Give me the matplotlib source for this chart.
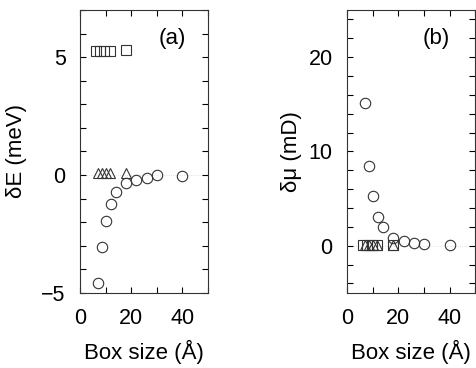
import matplotlib
matplotlib.use("Agg")
import matplotlib.pyplot as plt
from matplotlib.ticker import MultipleLocator

plt.rcParams['font.family'] = ['Liberation Sans', 'DejaVu Sans']

# dados
box_circ = [7, 8.5, 10, 12, 14, 18, 22, 26, 30, 40]
dE_circ = [-4.6, -3.05, -1.95, -1.25, -0.7, -0.33, -0.22, -0.13, 0.0, -0.04]
dmu_circ = [15.1, 8.5, 5.3, 3.1, 1.95, 0.85, 0.5, 0.3, 0.15, 0.05]

box_sq = [6.2, 7.8, 9.5, 11.5, 18]
dE_sq = [5.24, 5.24, 5.24, 5.24, 5.3]
dmu_sq = [0.1, 0.1, 0.1, 0.1, 0.1]

box_tri = [6.8, 8.4, 10, 11.8, 18]
dE_tri = [0.1, 0.08, 0.08, 0.08, 0.1]
dmu_tri = [0.1, 0.1, 0.1, 0.1, 0.1]

fig = plt.figure(figsize=(4.77, 3.68), dpi=100)
ax1 = fig.add_axes([0.168, 0.204, 0.268, 0.769])
ax2 = fig.add_axes([0.728, 0.204, 0.268, 0.769])

mk = dict(ls='none', mfc='none', mec='#333333', mew=0.8)

for ax, dc, ds, dt in [(ax1, dE_circ, dE_sq, dE_tri), (ax2, dmu_circ, dmu_sq, dmu_tri)]:
    ax.axhline(0, color='0.85', lw=0.6, ls=':', zorder=0)
    ax.plot(box_sq, ds, marker='s', ms=6.5, **mk)
    ax.plot(box_tri, dt, marker='^', ms=6.5, **mk)
    ax.plot(box_circ, dc, marker='o', ms=7.5, **mk)
    ax.set_xlim(0, 50)
    ax.xaxis.set_major_locator(MultipleLocator(20))
    ax.xaxis.set_minor_locator(MultipleLocator(10))
    ax.tick_params(which='both', direction='in', top=True, right=True, labelsize=15.5, width=0.8, length=4)
    ax.tick_params(which='major', pad=10.5)
    ax.set_xlabel("Box size (Å)", fontsize=16, labelpad=8)
    for s in ax.spines.values():
        s.set_linewidth(0.8)
        s.set_color('#333333')

ax1.set_ylim(-5, 7)
ax1.yaxis.set_major_locator(MultipleLocator(5))
ax1.yaxis.set_minor_locator(MultipleLocator(1))
ax1.set_ylabel("δE (meV)", fontsize=16, labelpad=10)
ax1.text(0.72, 0.9, "(a)", transform=ax1.transAxes, fontsize=16, ha='center', va='center')

ax2.set_ylim(-5, 25)
ax2.yaxis.set_major_locator(MultipleLocator(10))
ax2.yaxis.set_minor_locator(MultipleLocator(2))
ax2.set_ylabel("δμ (mD)", fontsize=16, labelpad=5)
ax2.text(0.7, 0.9, "(b)", transform=ax2.transAxes, fontsize=16, ha='center', va='center')

fig.savefig("out.png", dpi=100)
